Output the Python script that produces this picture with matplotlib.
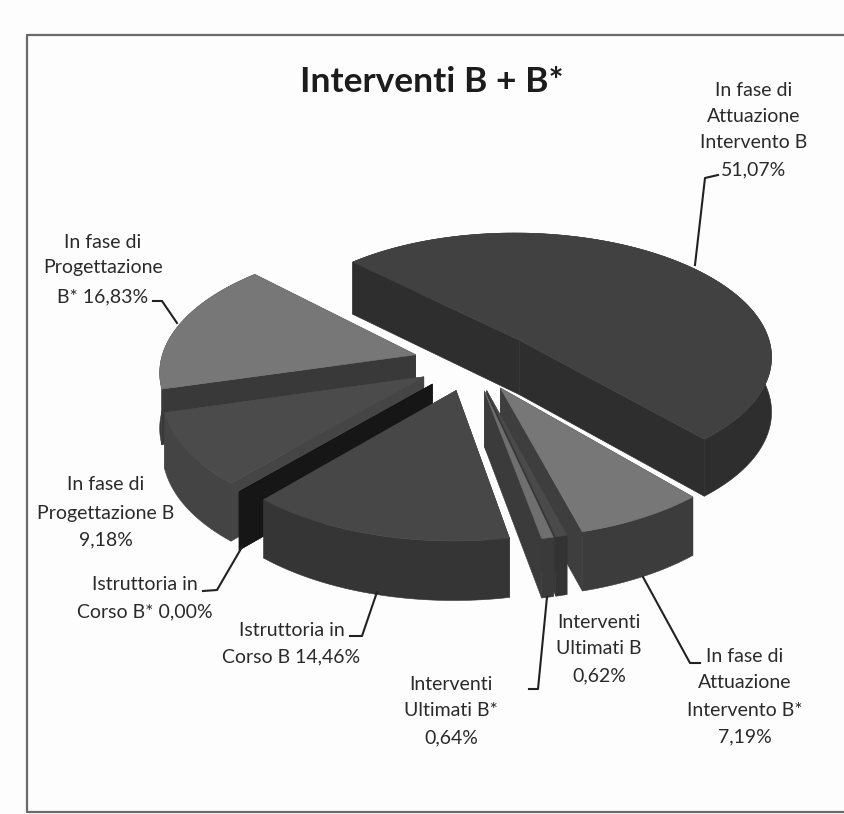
import numpy as np
import matplotlib
matplotlib.use("Agg")
import matplotlib.pyplot as plt
from matplotlib.patches import Polygon

plt.rcParams['font.family'] = ['Lato', 'DejaVu Sans']

TITLE = "Interventi B + B*"
# clockwise from the start angle
categories = ["In fase di Attuazione Intervento B", "In fase di Attuazione Intervento B*",
              "Interventi Ultimati B", "Interventi Ultimati B*", "Istruttoria in Corso B",
              "Istruttoria in Corso B*", "In fase di Progettazione B", "In fase di Progettazione B*"]
values = [51.07, 7.19, 0.62, 0.64, 14.46, 0.00, 9.18, 16.83]
explode = [0.26, 0.23, 0.23, 0.23, 0.23, 0.23, 0.22, 0.23]
top_colors = ["#414141", "#777777", "#4a4a4a", "#6f6f6f", "#474747", "#141414", "#4b4b4b", "#777777"]
side_colors = ["#2e2e2e", "#3c3c3c", "#333333", "#3a3a3a", "#353535", "#191919", "#444444", "#3a3a3a"]
wall_colors = ["#2e2e2e", "#3e3e3e", "#373737", "#3b3b3b", "#3a3a3a", "#161616", "#454545", "#393939"]
paint_order = [0, 1, 2, 3, 7, 6, 5, 4]

START = -45.0
CX, CY, A, B, K, DEPTH = 472, 362, 255, 125, 0.12, 55

fig = plt.figure(figsize=(8.44, 8.14), dpi=100, facecolor="#fdfdfd")
ax = fig.add_axes([0, 0, 1, 1])
ax.set_xlim(0, 844)
ax.set_ylim(814, 0)
ax.axis("off")


def project(x, y, depth=0.0):
    s = 1.0 / (1.0 + K * y)
    return CX + A * x * s, CY - B * y * s + depth * np.sqrt(s)


def prism(apex, theta, color_top, color_side, color_wall, z):
    sx, sy = np.sin(theta), np.cos(theta)
    ox, oy = apex[0] + sx, apex[1] + sy
    for idx in (0, -1):
        xs = [apex[0], ox[idx]]
        ys = [apex[1], oy[idx]]
        p = [project(xs[0], ys[0]), project(xs[1], ys[1]),
             project(xs[1], ys[1], DEPTH), project(xs[0], ys[0], DEPTH)]
        ax.add_patch(Polygon(p, closed=True, fc=color_wall, ec=color_wall, lw=0.4, zorder=z))
    t = np.array(project(ox, oy)).T
    b = np.array(project(ox, oy, DEPTH)).T
    ax.add_patch(Polygon(np.vstack([t, b[::-1]]), closed=True, fc=color_side, ec=color_side, lw=0.4, zorder=z + 0.1))
    face = np.vstack([[project(*apex)], t])
    ax.add_patch(Polygon(face, closed=True, fc=color_top, ec=color_top, lw=0.4, zorder=z + 0.2))


edges = START + np.concatenate([[0], np.cumsum(values)]) * 3.6
for rank, i in enumerate(paint_order):
    t0, t1 = np.radians(edges[i]), np.radians(edges[i + 1])
    mid = (t0 + t1) / 2
    apex = (explode[i] * np.sin(mid), explode[i] * np.cos(mid))
    theta = np.linspace(t0, t1, 120)
    prism(apex, theta, top_colors[i], side_colors[i], wall_colors[i], 2 + rank)

# frame
ax.plot([844, 27, 27, 844], [35, 35, 812, 812], color="#6a6a6a", lw=1.6, zorder=1, clip_on=False)

ax.text(432, 82, TITLE, ha="center", va="center", fontsize=25.5, fontweight="bold", color="#1c1c1c")

labels = [
    ("In fase di", 754, 90), ("Attuazione", 754, 116), ("Intervento B", 754, 143), ("51,07%", 754, 170),
    ("In fase di", 103, 242), ("Progettazione", 103, 268), ("B* 16,83%", 103, 297),
    ("In fase di", 106, 485), ("Progettazione B", 106, 513), ("9,18%", 106, 540),
    ("Istruttoria in", 145, 585), ("Corso B* 0,00%", 145, 612),
    ("Istruttoria in", 292, 631), ("Corso B 14,46%", 291, 657),
    ("Interventi", 451, 684), ("Ultimati B*", 451, 710), ("0,64%", 451, 738),
    ("Interventi", 599, 622), ("Ultimati B", 599, 648), ("0,62%", 599, 676),
    ("In fase di", 745, 657), ("Attuazione", 745, 683), ("Intervento B*", 745, 710), ("7,19%", 745, 737),
]
for txt, x, y in labels:
    ax.text(x, y, txt, ha="center", va="center", fontsize=14, color="#2a2a2a", zorder=20)

leaders = [
    ([718, 705, 695], [175, 178, 265]),
    ([153, 162, 177], [301, 301, 323]),
    ([203, 217, 242], [591, 590, 547]),
    ([350, 362, 377], [636, 636, 592]),
    ([529, 538, 547], [689, 689, 597]),
    ([700, 690, 643], [663, 663, 577]),
]
for xs, ys in leaders:
    ax.plot(xs, ys, color="#222222", lw=1.5, zorder=20)

fig.savefig("out.png", dpi=100, facecolor=fig.get_facecolor())
